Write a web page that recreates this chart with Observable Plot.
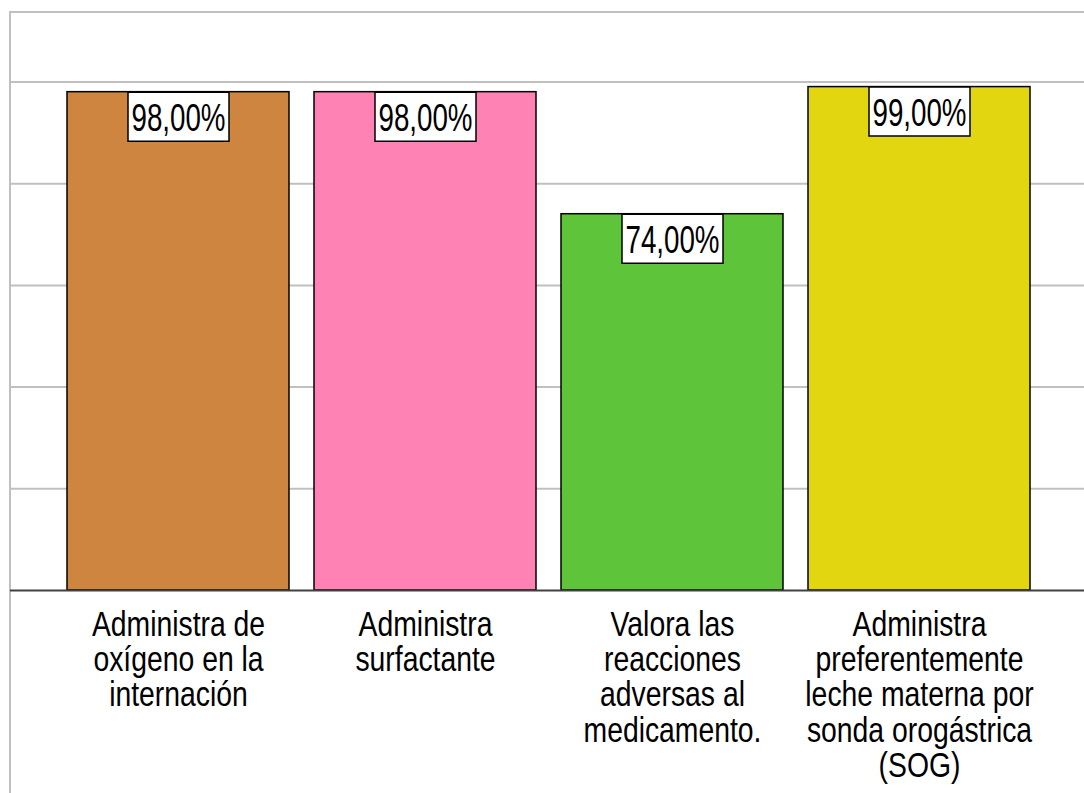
<!DOCTYPE html>
<html>
<head>
<meta charset="utf-8">
<script src="https://cdn.jsdelivr.net/npm/d3@7"></script>
<script src="https://cdn.jsdelivr.net/npm/@observablehq/plot@0.6"></script>
<style>
  html, body { margin: 0; padding: 0; background: #fff; }
  #wrap { position: relative; width: 1084px; height: 793px; overflow: hidden; }
  #border { position: absolute; left: 9px; top: 11px; width: 1100px; height: 800px;
            border-left: 2px solid #c0c0c0; border-top: 2px solid #c0c0c0; }
  #chart { position: absolute; left: 0; top: 0; }
  #chart svg { background: transparent; }
</style>
</head>
<body>
<div id="wrap"><div id="border"></div><div id="chart"></div></div>
<script>
const categories = [
  "Administra de\noxígeno en la\ninternación",
  "Administra\nsurfactante",
  "Valora las\nreacciones\nadversas al\nmedicamento.",
  "Administra\npreferentemente\nleche materna por\nsonda orogástrica\n(SOG)"
];
const values = [98, 98, 74, 99];
const barColors = ["#CD853F", "#FF82B4", "#5EC43A", "#E2D611"];
const gridTicks = [20, 40, 60, 80, 100];

const data = categories.map((c, i) => ({category: c, value: values[i]}));
const fmt = v => d3.format(".2f")(v).replace(".", ",") + "%";
const FONT = "'Liberation Sans', Arial, sans-serif";

const labelBox = {
  draw(ctx) { ctx.moveTo(-50.5, 0); ctx.lineTo(50.5, 0); ctx.lineTo(50.5, 49); ctx.lineTo(-50.5, 49); ctx.closePath(); }
};

const chart = Plot.plot({
  width: 1084,
  height: 793,
  marginLeft: 10,
  marginRight: 0,
  marginTop: 12,
  marginBottom: 203,
  style: {background: "transparent", fontFamily: FONT},
  x: {domain: categories, range: [65, 1032], paddingInner: 0.1, paddingOuter: 0, axis: null},
  y: {domain: [0, 100], range: [590, 81.5], axis: null},
  color: {domain: categories, range: barColors},
  marks: [
    Plot.ruleY(gridTicks, {stroke: "#c0c0c0", strokeWidth: 2}),
    Plot.barY(data, {x: "category", y: "value", fill: "category", stroke: "#000", strokeWidth: 1.5}),
    Plot.ruleY([0], {stroke: "#404040", strokeWidth: 2}),
    Plot.dot(data, {x: "category", y: "value", r: 1, symbol: labelBox, fill: "#fff", stroke: "#000", strokeWidth: 1.5}),
    Plot.text(data, {x: "category", y: "value", text: d => fmt(d.value), dy: 27, fontSize: 38, fill: "#000", lineAnchor: "middle"}),
    Plot.text(data, {x: "category", y: 0, text: "category", dy: 20, lineAnchor: "top", fontSize: 35, lineHeight: 1.01, fill: "#000"})
  ]
});

// condense the glyphs horizontally (narrow font look)
function condense(group, s) {
  if (!group) return;
  group.querySelectorAll("text").forEach(t => {
    let tr = t.getAttribute("transform");
    if (!tr) {
      const x = t.getAttribute("x") || 0, y = t.getAttribute("y") || 0;
      t.removeAttribute("x"); t.removeAttribute("y");
      tr = `translate(${x},${y})`;
    }
    t.setAttribute("transform", tr + ` scale(${s},1)`);
  });
}
const textGroups = chart.querySelectorAll('g[aria-label="text"]');
condense(textGroups[0], 0.73);
condense(textGroups[1], 0.81);
document.getElementById("chart").appendChild(chart);
</script>
</body>
</html>
